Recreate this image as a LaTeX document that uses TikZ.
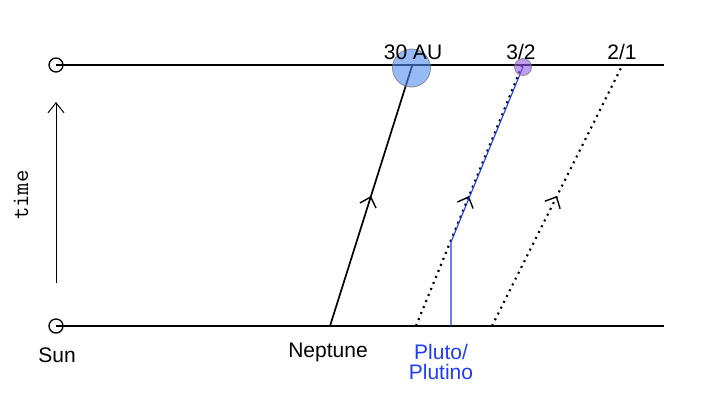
\documentclass[tikz,border=0pt]{standalone}
\usepackage{fontspec}
\setmainfont{Liberation Sans}
\usetikzlibrary{arrows.meta,decorations.markings}
\definecolor{plutoblue}{RGB}{30,60,250}
\definecolor{nepfill}{RGB}{80,140,240}
\definecolor{plufill}{RGB}{150,90,230}
\begin{document}
\begin{tikzpicture}[x=1pt,y=-1pt]
\useasboundingbox (0,0) rectangle (719,407);
\tikzset{
  lbl/.style={font=\fontsize{21}{24}\selectfont, inner sep=0pt},
  axisline/.style={line width=2.2pt},
  sunmark/.style={circle, draw, line width=1.3pt, minimum size=14pt, inner sep=0pt},
  midarrow/.style={postaction={decorate}, decoration={markings, mark=at position 0.5 with {\arrow{Straight Barb[length=9pt,width=17pt,line width=1.4pt]}}}},
  reson/.style={line width=2.2pt, dash pattern=on 2pt off 4.5pt},
  bodyc/.style={circle, inner sep=0pt, draw=gray, line width=0.9pt, fill opacity=0.6, draw opacity=0.8},
}
% time axis lines
\coordinate (t0) at (56,65); \coordinate (tE) at (664,65);
\coordinate (b0) at (56,326); \coordinate (bE) at (664,326);
\node[sunmark] (sunT) at (t0) {};
\node[sunmark] (sunB) at (b0) {};
\draw[axisline] (t0) -- (tE);
\draw[axisline] (b0) -- (bE);
% time arrow
\coordinate (ta) at (56,283); \coordinate (tb) at (56,102);
\draw[line width=0.8pt, -{Straight Barb[length=10pt,width=16pt,line width=1pt]}] (ta) -- (tb);
\node[rotate=90, font=\ttfamily\fontsize{24}{28}\selectfont, inner sep=0pt] (time) at (21,195) {time};
% Neptune
\coordinate (nb) at (330,326); \coordinate (nt) at (412,66);
\draw[line width=1.7pt, midarrow] (nb) -- (nt);
% 3/2 resonance
\coordinate (r3b) at (416,326); \coordinate (r3t) at (522,66);
\draw[reson, midarrow] (r3b) -- (r3t);
% 2/1 resonance
\coordinate (r2b) at (492,326); \coordinate (r2t) at (622,66);
\draw[reson, midarrow] (r2b) -- (r2t);
% Pluto path
\coordinate (pb) at (451,326); \coordinate (pk) at (451,242); \coordinate (pt) at (523,67);
\draw[plutoblue, line width=1.1pt] (pb) -- (pk) -- (pt);
% bodies
\node[bodyc, fill=nepfill, minimum size=38pt] (nep) at (411.5,68) {};
\node[bodyc, fill=plufill, minimum size=17pt] (plu) at (523,67) {};
% labels
\node[lbl] (au) at (413,52) {30 AU};
\node[lbl] (r32) at (521,52) {3/2};
\node[lbl] (r21) at (622,52) {2/1};
\node[lbl] (sun) at (57,355) {Sun};
\node[lbl] (nepl) at (328,352) {Neptune};
\node[lbl, text=plutoblue, align=center, font=\fontsize{21}{20}\selectfont] (plul) at (441,362) {Pluto/\\Plutino};
\end{tikzpicture}
\end{document}
